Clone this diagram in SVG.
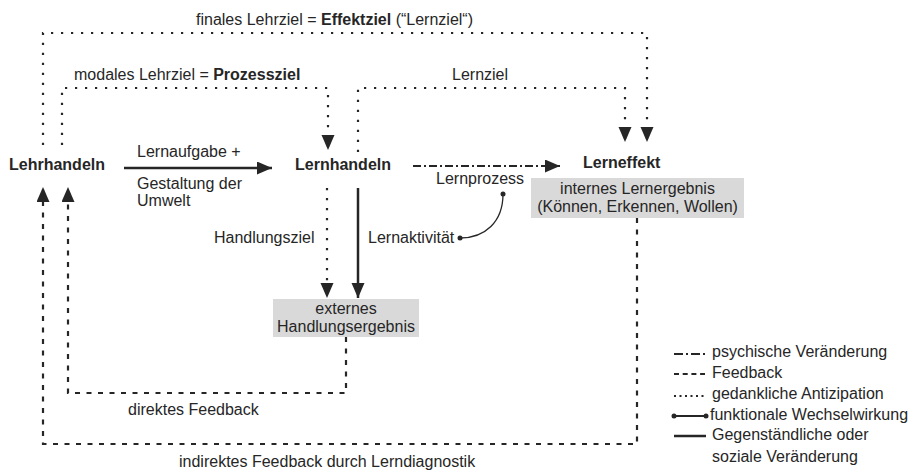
<svg xmlns="http://www.w3.org/2000/svg" width="918" height="473" viewBox="0 0 918 473">
<style>
text{font-family:"Liberation Sans",Arial,sans-serif;font-size:16px;fill:#262626}
.b{font-weight:bold}
.box{fill:#d9d9d9}
.ln{fill:none;stroke:#262626}
.dot{stroke-width:2.2;stroke-dasharray:2.2 7.8}
.dash{stroke-width:2.2;stroke-dasharray:5 6.5}
.dd{stroke-width:2.2;stroke-dasharray:8 3 2 3}
.sol{stroke-width:2.5}
</style>
<defs>
<marker id="ah" markerUnits="userSpaceOnUse" markerWidth="16" markerHeight="14" refX="15" refY="6.5" orient="auto">
<path d="M0,0 L15,6.5 L0,13 z" fill="#262626"/>
</marker>
</defs>
<rect width="918" height="473" fill="#fff"/>
<g id="connectors">
<path class="ln dot" d="M43,145 V33 H647 V142" marker-end="url(#ah)"/>
<path class="ln dot" d="M62,145 V88 H328 V150" marker-end="url(#ah)"/>
<path class="ln dot" d="M358,152 V88 H625 V142" marker-end="url(#ah)"/>
<path class="ln sol" d="M124,168 H272" marker-end="url(#ah)"/>
<path class="ln dd" d="M413,166 H560" marker-end="url(#ah)"/>
<path class="ln sol" d="M358,188 V298" marker-end="url(#ah)"/>
<path class="ln dot" d="M327,188 V298" marker-end="url(#ah)"/>
<path class="ln dash" d="M346,337 V393 H68 V187" marker-end="url(#ah)"/>
<path class="ln dash" d="M637,218 V444 H43 V187" marker-end="url(#ah)"/>
<path class="ln" stroke-width="1.3" d="M503,194 C503,222 485,238 460,238"/>
<circle cx="503" cy="194" r="2.5" fill="#262626"/>
<circle cx="460" cy="238" r="2.5" fill="#262626"/>
</g>
<g id="labels">
<text x="196" y="25">finales Lehrziel = <tspan class="b">Effektziel</tspan> (“Lernziel“)</text>
<text x="74" y="80">modales Lehrziel = <tspan class="b">Prozessziel</tspan></text>
<text x="452" y="80">Lernziel</text>
<text x="137" y="157">Lernaufgabe +</text>
<text x="137" y="189">Gestaltung der</text>
<text x="137" y="206">Umwelt</text>
<text x="436" y="184">Lernprozess</text>
<text x="214" y="243">Handlungsziel</text>
<text x="368" y="243">Lernaktivität</text>
<text x="128" y="415">direktes Feedback</text>
<text x="179" y="467">indirektes Feedback durch Lerndiagnostik</text>
</g>
<g id="lehrhandeln"><text class="b" x="9" y="170">Lehrhandeln</text></g>
<g id="lernhandeln"><text class="b" x="295" y="170">Lernhandeln</text></g>
<g id="lerneffekt">
<text class="b" x="583" y="168">Lerneffekt</text>
<rect class="box" x="531" y="178" width="213" height="40"/>
<text x="637.5" y="194" text-anchor="middle">internes Lernergebnis</text>
<text x="637.5" y="212" text-anchor="middle">(Können, Erkennen, Wollen)</text>
</g>
<g id="handlungsergebnis">
<rect class="box" x="273" y="299" width="146" height="38"/>
<text x="346" y="314" text-anchor="middle">externes</text>
<text x="346" y="332" text-anchor="middle">Handlungsergebnis</text>
</g>
<g id="legend">
<line class="ln dd" x1="674" y1="354" x2="705" y2="354" style="stroke-dasharray:9 3 2 3"/>
<text x="712" y="357">psychische Veränderung</text>
<line class="ln dash" x1="674" y1="374" x2="705" y2="374" style="stroke-dasharray:5 3.7"/>
<text x="712" y="378">Feedback</text>
<line class="ln dot" x1="674" y1="396" x2="705" y2="396" style="stroke-dasharray:2 3.5"/>
<text x="712" y="399">gedankliche Antizipation</text>
<line class="ln" stroke-width="2" x1="674" y1="416" x2="706" y2="416"/>
<circle cx="674" cy="416" r="2.5" fill="#262626"/>
<circle cx="706" cy="416" r="2.5" fill="#262626"/>
<text x="710" y="420">funktionale Wechselwirkung</text>
<line class="ln sol" x1="674" y1="436" x2="706" y2="436"/>
<text x="712" y="440">Gegenständliche oder</text>
<text x="712" y="462">soziale Veränderung</text>
</g>
</svg>
